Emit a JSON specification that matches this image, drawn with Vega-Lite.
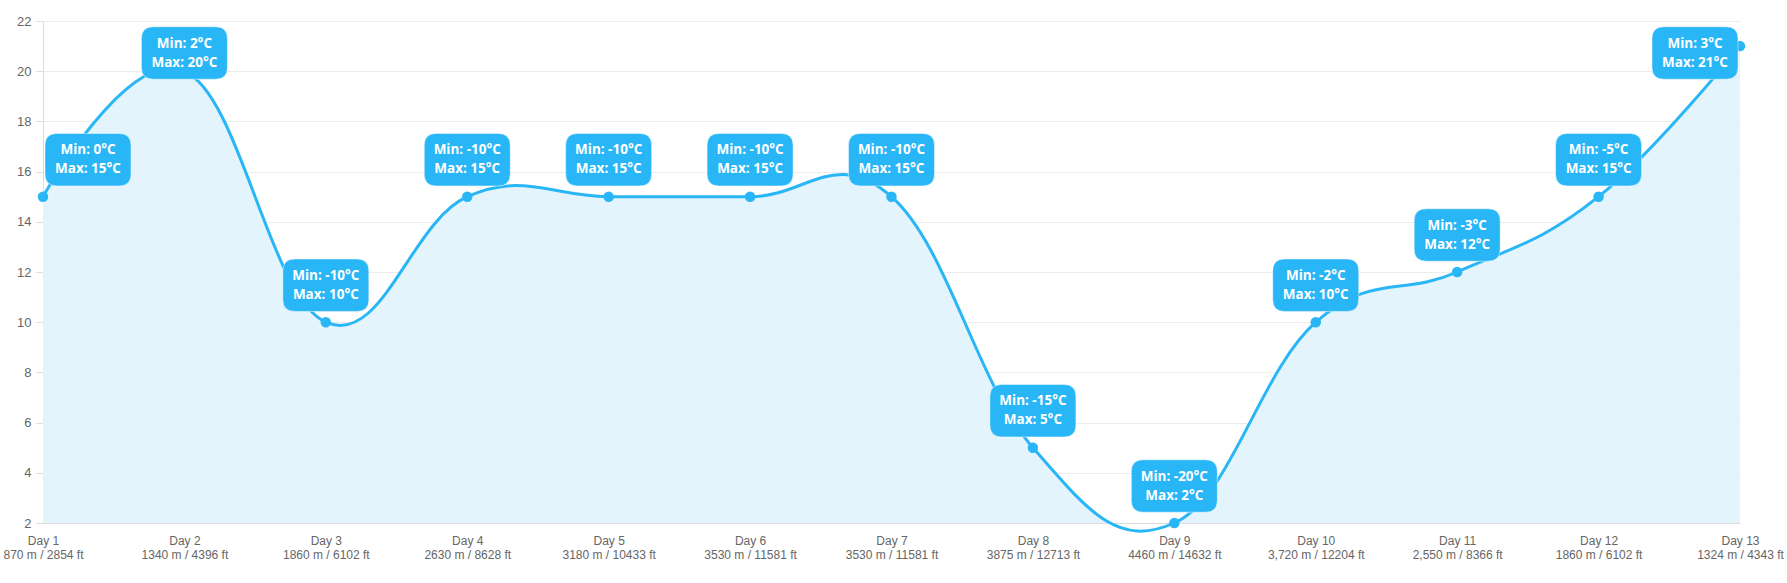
{
  "$schema": "https://vega.github.io/schema/vega-lite/v6.json",
  "width": 1697,
  "height": 502,
  "autosize": "none",
  "padding": {"left": 43, "top": 21, "right": 47, "bottom": 60},
  "background": "white",
  "config": {"view": {"stroke": null}},
  "data": {
    "values": [
      {"day": "Day 1", "elev": "870 m / 2854 ft", "min": 0, "max": 15},
      {"day": "Day 2", "elev": "1340 m / 4396 ft", "min": 2, "max": 20},
      {"day": "Day 3", "elev": "1860 m / 6102 ft", "min": -10, "max": 10},
      {"day": "Day 4", "elev": "2630 m / 8628 ft", "min": -10, "max": 15},
      {"day": "Day 5", "elev": "3180 m / 10433 ft", "min": -10, "max": 15},
      {"day": "Day 6", "elev": "3530 m / 11581 ft", "min": -10, "max": 15},
      {"day": "Day 7", "elev": "3530 m / 11581 ft", "min": -10, "max": 15},
      {"day": "Day 8", "elev": "3875 m / 12713 ft", "min": -15, "max": 5},
      {"day": "Day 9", "elev": "4460 m / 14632 ft", "min": -20, "max": 2},
      {"day": "Day 10", "elev": "3,720 m / 12204 ft", "min": -2, "max": 10},
      {"day": "Day 11", "elev": "2,550 m / 8366 ft", "min": -3, "max": 12},
      {"day": "Day 12", "elev": "1860 m / 6102 ft", "min": -5, "max": 15},
      {"day": "Day 13", "elev": "1324 m / 4343 ft", "min": 3, "max": 21}
    ]
  },
  "transform": [
    {"calculate": "datum.day + '|' + datum.elev", "as": "xlab"},
    {"calculate": "'Min: ' + datum.min + '°C\\nMax: ' + datum.max + '°C'", "as": "lbl"}
  ],
  "encoding": {
    "x": {
      "field": "xlab", "type": "ordinal", "sort": null,
      "scale": {"type": "point", "padding": 0},
      "axis": {
        "title": null, "labelAngle": 0, "ticks": false, "grid": false,
        "domainColor": "#dcdcdc", "labelExpr": "split(datum.value, '|')",
        "labelFont": "Liberation Sans", "labelFontSize": 12, "labelLineHeight": 14,
        "labelColor": "#666", "labelPadding": 12, "labelOverlap": false, "labelBound": false, "labelFlush": false
      }
    },
    "y": {
      "field": "max", "type": "quantitative",
      "scale": {"domain": [2, 22], "nice": false, "zero": false},
      "axis": {
        "title": null, "values": [2,4,6,8,10,12,14,16,18,20,22],
        "gridColor": "#ececec", "tickColor": "#e0e0e0", "tickSize": 8,
        "domainColor": "#dcdcdc", "labelFont": "Liberation Sans", "labelFontSize": 13,
        "labelColor": "#666", "labelPadding": 4
      }
    }
  },
  "layer": [
    {"mark": {"type": "area", "interpolate": "cardinal", "tension": -0.2, "color": "#e3f4fd", "opacity": 1, "clip": true},
     "encoding": {"y2": {"datum": 2}}},
    {"mark": {"type": "line", "interpolate": "cardinal", "tension": -0.2, "color": "#29b6f6", "strokeWidth": 3}},
    {"mark": {"type": "point", "filled": true, "size": 110, "color": "#29b6f6", "opacity": 1}},
    {"mark": {
      "type": "point", "filled": true, "opacity": 1, "color": "#29b6f6", "size": 7396,
      "stroke": "#ffffff", "strokeWidth": 0.8, "strokeOpacity": 0.6,
      "shape": "M -0.72,-0.61 L 0.72,-0.61 Q 1,-0.61 1,-0.33 L 1,0.33 Q 1,0.61 0.72,0.61 L -0.72,0.61 Q -1,0.61 -1,0.33 L -1,-0.33 Q -1,-0.61 -0.72,-0.61 Z",
      "xOffset": {"expr": "clamp(scale('x', datum.xlab), 45, width - 45) - scale('x', datum.xlab)"},
      "yOffset": {"expr": "max(-37, 32 - scale('y', datum.max))"}
    }},
    {"mark": {
      "type": "text", "color": "white", "font": "Open Sans", "fontWeight": "bold", "fontSize": 13.5,
      "lineBreak": "\n", "lineHeight": 19, "align": "center", "baseline": "middle", "dy": -9.5,
      "xOffset": {"expr": "clamp(scale('x', datum.xlab), 45, width - 45) - scale('x', datum.xlab)"},
      "yOffset": {"expr": "max(-37, 32 - scale('y', datum.max))"}
    },
    "encoding": {"text": {"field": "lbl"}}}
  ]
}
